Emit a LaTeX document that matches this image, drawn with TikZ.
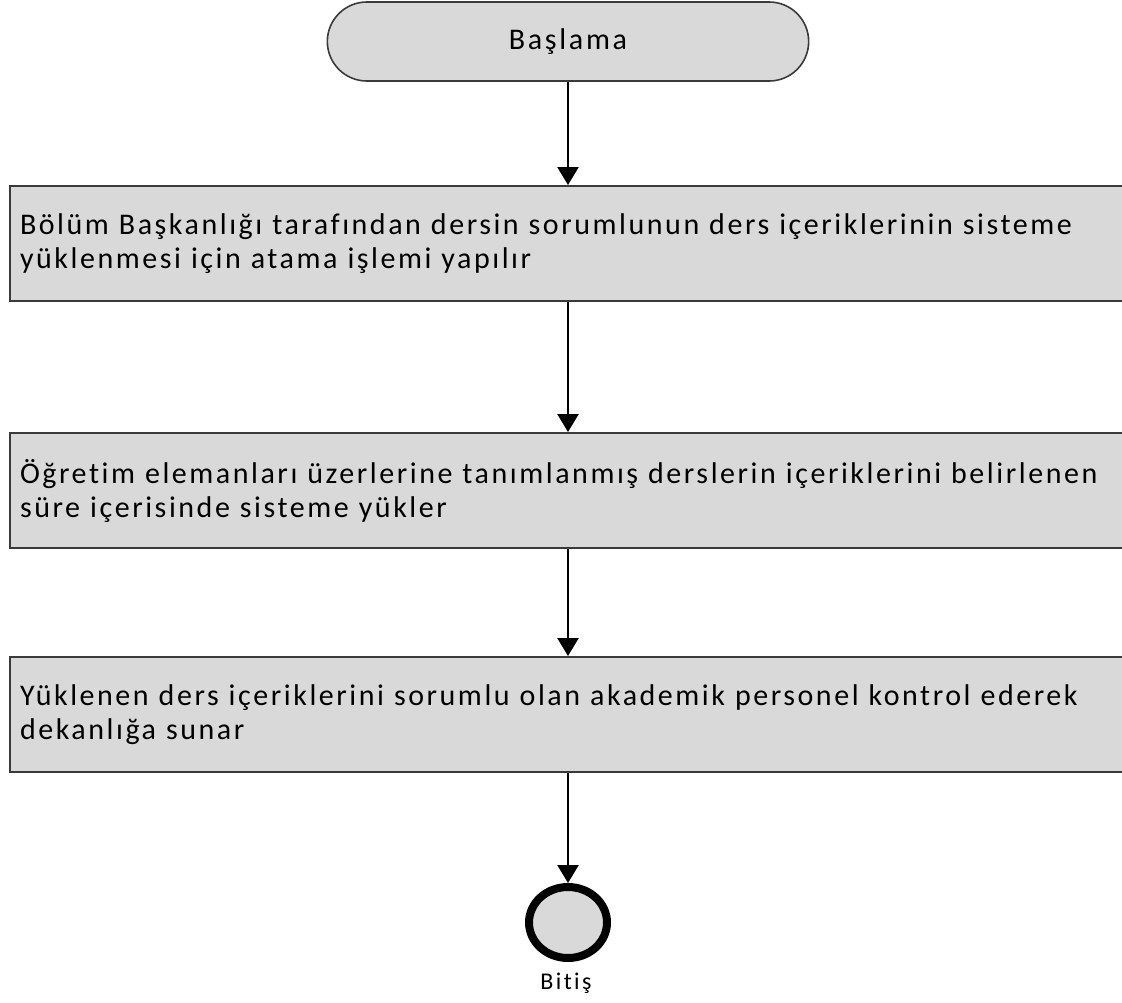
\documentclass[tikz,border=0pt]{standalone}
\usepackage{fontspec}
\setmainfont{Carlito}[LetterSpace=8.5,Ligatures=NoCommon]
\newfontfamily\startfont{Carlito}[LetterSpace=9,Ligatures=NoCommon]
\newfontfamily\endfont{Carlito}[LetterSpace=10,Ligatures=NoCommon]
\usetikzlibrary{arrows.meta,shapes.misc,shapes.geometric}
\definecolor{boxgray}{HTML}{D9D9D9}
\definecolor{edgegray}{HTML}{3A3A3A}
\tikzset{
  startbox/.style={rounded rectangle, draw=edgegray, line width=1.6pt, fill=boxgray,
    minimum width=488pt, minimum height=79pt, font=\startfont\fontsize{30}{36}\selectfont},
  stepbox/.style={rectangle, draw=edgegray, line width=2pt, fill=boxgray,
    anchor=north west, minimum width=1145pt, minimum height=115pt,
    text width=1125pt, align=left, inner xsep=5pt,
    font=\fontsize{30}{34}\selectfont},
  endcircle/.style={ellipse, draw=black, line width=8pt, fill=boxgray,
    minimum width=78pt, minimum height=71pt, inner sep=0pt},
  arr/.style={line width=2.6pt, -{Triangle[width=21pt,length=18pt]}},
  lbl/.style={font=\endfont\fontsize{24}{29}\selectfont}
}
\begin{document}
\begin{tikzpicture}[x=1pt,y=-1pt]
\clip (0,0) rectangle (1122,1002);
\fill[white] (0,0) rectangle (1122,1002);
\node[startbox] (start) at (568,41.5) {Başlama};
\node[stepbox] (b1) at (9,185) {Bölüm Başkanlığı tarafından dersin sorumlunun ders içeriklerinin sisteme\\yüklenmesi için atama işlemi yapılır};
\node[stepbox] (b2) at (9,432) {Öğretim elemanları üzerlerine tanımlanmış derslerin içeriklerini belirlenen\\süre içerisinde sisteme yükler};
\node[stepbox] (b3) at (9,656) {Yüklenen ders içeriklerini sorumlu olan akademik personel kontrol ederek\\dekanlığa sunar};
\node[endcircle] (end) at (568,922.5) {};
\node[lbl] (endlabel) at (566,983) {Bitiş};
\draw[arr] (start.south) -- (start.south |- b1.north);
\draw[arr] (start.south |- b1.south) -- (start.south |- b2.north);
\draw[arr] (start.south |- b2.south) -- (start.south |- b3.north);
\draw[arr] (start.south |- b3.south) -- (end.north);
\end{tikzpicture}
\end{document}
